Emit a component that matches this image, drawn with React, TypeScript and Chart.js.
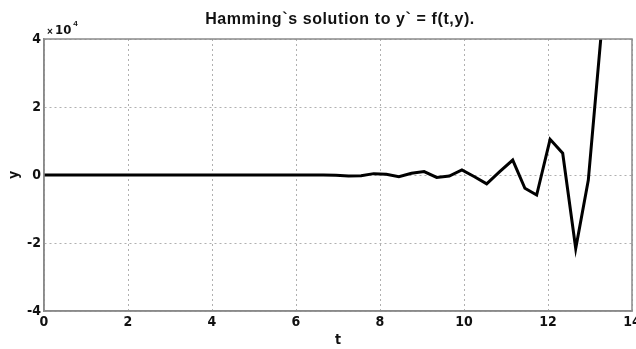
import React, { useEffect, useRef } from "react";
import Chart from "chart.js/auto";

const tValues = [
  0, 0.35, 0.65, 0.95, 1.25, 1.55, 1.85, 2.15, 2.45, 2.75, 3.05, 3.35, 3.65, 3.95,
  4.25, 4.55, 4.85, 5.15, 5.45, 5.75, 6.05, 6.35, 6.65, 6.95, 7.25, 7.55, 7.85,
  8.15, 8.45, 8.75, 9.05, 9.35, 9.65, 9.95, 10.25, 10.54, 10.85, 11.16, 11.45,
  11.73, 12.05, 12.35, 12.66, 12.96, 13.27,
];
// y in units of 10^4
const yValues = [
  0, 0, 0, 0, 0, 0, 0, 0, 0, 0, 0, 0, 0, 0,
  0, 0, 0, 0, 0, 0, 0, 0, 0, -0.01, -0.03, -0.02, 0.04,
  0.02, -0.05, 0.05, 0.1, -0.07, -0.03, 0.15, -0.05, -0.26, 0.1, 0.44, -0.39,
  -0.59, 1.05, 0.64, -2.16, -0.15, 4.2,
];
const xTicks = [0, 2, 4, 6, 8, 10, 12, 14];
const yTicks = [-4, -2, 0, 2, 4];
const titleText = "Hamming`s solution to y` = f(t,y).";
const xLabel = "t";
const yLabel = "y";
const exponentBase = "10";
const exponentPower = "4";

const tickFont = "'Liberation Sans Narrow', 'DejaVu Sans Condensed', sans-serif";

export default function App() {
  const ref = useRef<HTMLCanvasElement | null>(null);
  useEffect(() => {
    if (!ref.current) return;
    const overlay = {
      id: "overlay",
      afterDraw(chart: any) {
        const ctx = chart.ctx;
        const a = chart.chartArea;
        ctx.save();
        ctx.strokeStyle = "#8a8a8a";
        ctx.lineWidth = 1.5;
        ctx.strokeRect(a.left, a.top, a.right - a.left, a.bottom - a.top);
        ctx.fillStyle = "#111";
        ctx.font = "bold 16px 'Liberation Sans', Arial, sans-serif";
        (ctx as any).letterSpacing = "0.6px";
        ctx.textAlign = "center";
        ctx.textBaseline = "middle";
        ctx.fillText(titleText, (a.left + a.right) / 2 + 2, 20);
        (ctx as any).letterSpacing = "0px";
        ctx.textAlign = "left";
        ctx.font = "bold 10px 'Liberation Sans', Arial, sans-serif";
        ctx.fillText("×", a.left + 3, 32);
        ctx.font = "bold 13px " + tickFont;
        ctx.fillText(exponentBase, a.left + 11, 31);
        const w = ctx.measureText(exponentBase).width;
        ctx.font = "bold 8px 'Liberation Sans', Arial, sans-serif";
        ctx.fillText(exponentPower, a.left + 13 + w, 24);
        ctx.restore();
      },
    };
    const chart = new Chart(ref.current, {
      type: "line",
      data: {
        datasets: [
          {
            data: tValues.map((t, i) => ({ x: t, y: yValues[i] })),
            borderColor: "#000",
            borderWidth: 3,
            pointRadius: 0,
            tension: 0,
            clip: 0 as any,
          },
        ],
      },
      plugins: [overlay],
      options: {
        animation: false,
        responsive: false,
        layout: { padding: { top: 39, right: 4, left: 0, bottom: 0 } },
        plugins: {
          legend: { display: false },
          tooltip: { enabled: false },
          title: { display: false },
        },
        scales: {
          x: {
            type: "linear",
            min: 0,
            max: 14,
            afterBuildTicks: (s: any) => {
              s.ticks = xTicks.map((v) => ({ value: v }));
            },
            afterFit: (s: any) => {
              s.height = 38;
              s.paddingRight = 0;
              s.paddingLeft = 0;
            },
            ticks: {
              color: "#111",
              font: { family: tickFont, size: 14, weight: "bold" },
              padding: 3,
              maxRotation: 0,
            },
            grid: {
              color: "#b0b0b0",
              lineWidth: 1,
              drawTicks: false,
              tickLength: 0,
            },
            border: { color: "#8a8a8a", width: 1.5, dash: [2, 3] },
            title: {
              display: true,
              text: xLabel,
              color: "#111",
              font: { family: tickFont, size: 14, weight: "bold" },
              padding: { top: 0, bottom: 0 },
            },
          },
          y: {
            type: "linear",
            min: -4,
            max: 4,
            afterBuildTicks: (s: any) => {
              s.ticks = yTicks.map((v) => ({ value: v }));
            },
            afterFit: (s: any) => {
              s.width = 44;
              s.paddingTop = 0;
              s.paddingBottom = 0;
            },
            ticks: {
              color: "#111",
              font: { family: tickFont, size: 14, weight: "bold" },
              padding: 3,
            },
            grid: {
              color: "#b0b0b0",
              lineWidth: 1,
              drawTicks: false,
              tickLength: 0,
            },
            border: { color: "#8a8a8a", width: 1.5, dash: [2, 3] },
            title: {
              display: true,
              text: yLabel,
              color: "#111",
              font: { family: tickFont, size: 14, weight: "bold" },
              padding: { top: 6, bottom: 0 },
            },
          },
        },
      } as any,
    });
    return () => chart.destroy();
  }, []);
  return (
    <div style={{ position: "fixed", left: 0, top: 0, width: 636, height: 349, background: "#fff" }}>
      <canvas ref={ref} width={636} height={349} style={{ width: 636, height: 349 }} />
    </div>
  );
}
